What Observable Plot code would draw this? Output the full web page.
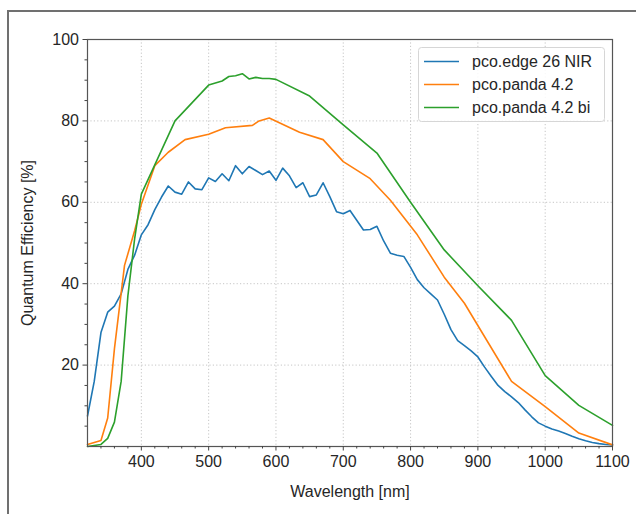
<!DOCTYPE html>
<html>
<head>
<meta charset="utf-8">
<script src="https://cdn.jsdelivr.net/npm/d3@7"></script>
<script src="https://cdn.jsdelivr.net/npm/@observablehq/plot@0.6"></script>
<style>
  html, body { margin: 0; padding: 0; background: #fff; overflow: hidden; width: 636px; height: 514px; }
  #wrap { position: relative; width: 636px; height: 514px; }
  #frame { position: absolute; left: 7px; top: 10px; width: 700px; height: 600px; border: 2px solid #707070; box-sizing: border-box; pointer-events: none; }
  #chart { position: absolute; left: 0; top: 0; }
</style>
</head>
<body>
<div id="wrap"><div id="chart"></div><div id="frame"></div></div>
<script>
const seriesNames = ["pco.edge 26 NIR", "pco.panda 4.2", "pco.panda 4.2 bi"];
const seriesColors = ["#1f77b4", "#ff7f0e", "#2ca02c"];

const edgeWavelength = [320,330,340,350,360,370,380,390,400,410,420,430,440,450,460,470,480,490,500,510,520,530,540,550,560,570,580,590,600,610,620,630,640,650,660,670,680,690,700,710,720,730,740,750,760,770,780,790,800,810,820,830,840,850,860,870,880,890,900,910,920,930,940,950,960,970,980,990,1000,1010,1020,1030,1040,1050,1060,1070,1080,1090,1100];
const edgeQE = [7.5,16,28,33,34.5,37.5,43.5,47,52,54.5,58.2,61.3,64,62.5,62,65,63.3,63.1,66,65.1,67,65.3,69,67,68.8,67.8,66.8,67.7,65.4,68.4,66.5,63.6,64.8,61.4,61.8,64.8,61.4,57.7,57.2,58,55.6,53.2,53.3,54.1,50.5,47.5,47,46.7,44,41,39,37.5,36,32.5,28.7,26,24.8,23.5,22,19.5,17.2,15,13.5,12.2,10.8,9,7.3,5.8,5,4.3,3.8,3.2,2.5,1.9,1.4,1,0.7,0.5,0.4];

const pandaWavelength = [320,340,350,360,375,390,400,420,440,465,500,525,565,575,590,635,670,700,740,770,810,850,880,950,1000,1050,1100];
const pandaQE = [0.5,1.5,7,24,44.5,53,59.5,69,72.3,75.4,76.7,78.3,78.9,80,80.7,77.2,75.4,70,65.8,60.5,52,41.6,35.2,16,9.8,3.3,0.4];

const pandaBiWavelength = [320,340,350,360,370,380,390,400,450,500,510,520,530,540,550,560,570,580,590,600,650,700,750,800,850,900,950,1000,1050,1100];
const pandaBiQE = [0,0.5,2,6,16,37,51,62,80,88.8,89.3,89.8,90.9,91.1,91.6,90.3,90.7,90.4,90.4,90.2,86.1,79,72.1,60,48.3,39.5,31,17.4,10.1,5.2];

const xTicks = [400,500,600,700,800,900,1000,1100];
const xMinorTicks = [340,360,380,420,440,460,480,520,540,560,580,620,640,660,680,720,740,760,780,820,840,860,880,920,940,960,980,1020,1040,1060,1080];
const yTicks = [20,40,60,80,100];
const yMinorTicks = [5,10,15,25,30,35,45,50,55,65,70,75,85,90,95];

const toRows = (xs, ys, name) => xs.map((x, i) => ({wavelength: x, qe: ys[i], series: name}));
const rows = [
  ...toRows(edgeWavelength, edgeQE, seriesNames[0]),
  ...toRows(pandaWavelength, pandaQE, seriesNames[1]),
  ...toRows(pandaBiWavelength, pandaBiQE, seriesNames[2])
];

const gridStyle = {stroke: "#b8b8b8", strokeOpacity: 1, strokeWidth: 0.8, strokeDasharray: "1.2,2.2"};
const tickColor = "#444";

const svg = Plot.plot({
  width: 636,
  height: 514,
  marginLeft: 87,
  marginRight: 24,
  marginTop: 39,
  marginBottom: 68,
  style: {fontFamily: "'Liberation Sans', Arial, sans-serif", fontSize: "16px", color: "#262626", background: "transparent"},
  x: {domain: [320, 1100]},
  y: {domain: [0, 100]},
  color: {domain: seriesNames, range: seriesColors},
  marks: [
    Plot.gridX(xTicks, gridStyle),
    Plot.gridY(yTicks, gridStyle),
    Plot.line(rows, {x: "wavelength", y: "qe", z: "series", stroke: "series", strokeWidth: 1.6}),
    Plot.frame({stroke: "#555", strokeWidth: 1.2}),
    Plot.axisX(xTicks, {tickSize: 4.5, tickPadding: 5, stroke: tickColor, tickFormat: d => String(d), label: "Wavelength [nm]", labelAnchor: "center", labelArrow: "none", labelOffset: 50, fill: "#262626"}),
    Plot.axisX(xMinorTicks, {tickSize: 2.5, stroke: tickColor, tickFormat: () => "", label: null}),
    Plot.axisY(yTicks, {tickSize: 4.5, tickPadding: 4, stroke: tickColor, tickFormat: d => String(d), label: "Quantum Efficiency [%]", labelAnchor: "center", labelArrow: "none", labelOffset: 66, fill: "#262626"}),
    Plot.axisY(yMinorTicks, {tickSize: 2.5, stroke: tickColor, tickFormat: () => "", label: null})
  ]
});

document.getElementById("chart").appendChild(svg);

// legend inside the plot area (upper right)
const lg = d3.select(svg).append("g")
  .attr("font-family", "'Liberation Sans', Arial, sans-serif")
  .attr("font-size", "16px")
  .attr("text-anchor", "start");
lg.append("rect").attr("x", 418.5).attr("y", 47.5).attr("width", 186).attr("height", 74).attr("rx", 3)
  .attr("fill", "#fff").attr("fill-opacity", 0.85).attr("stroke", "#d6d6d6");
seriesNames.forEach((name, i) => {
  const cy = 61.5 + i * 23;
  lg.append("line").attr("x1", 424).attr("x2", 459).attr("y1", cy).attr("y2", cy)
    .attr("stroke", seriesColors[i]).attr("stroke-width", 1.6);
  lg.append("text").attr("x", 472).attr("y", cy).attr("dy", "0.36em")
    .attr("text-anchor", "start").attr("fill", "#262626").text(name);
});
</script>
</body>
</html>
